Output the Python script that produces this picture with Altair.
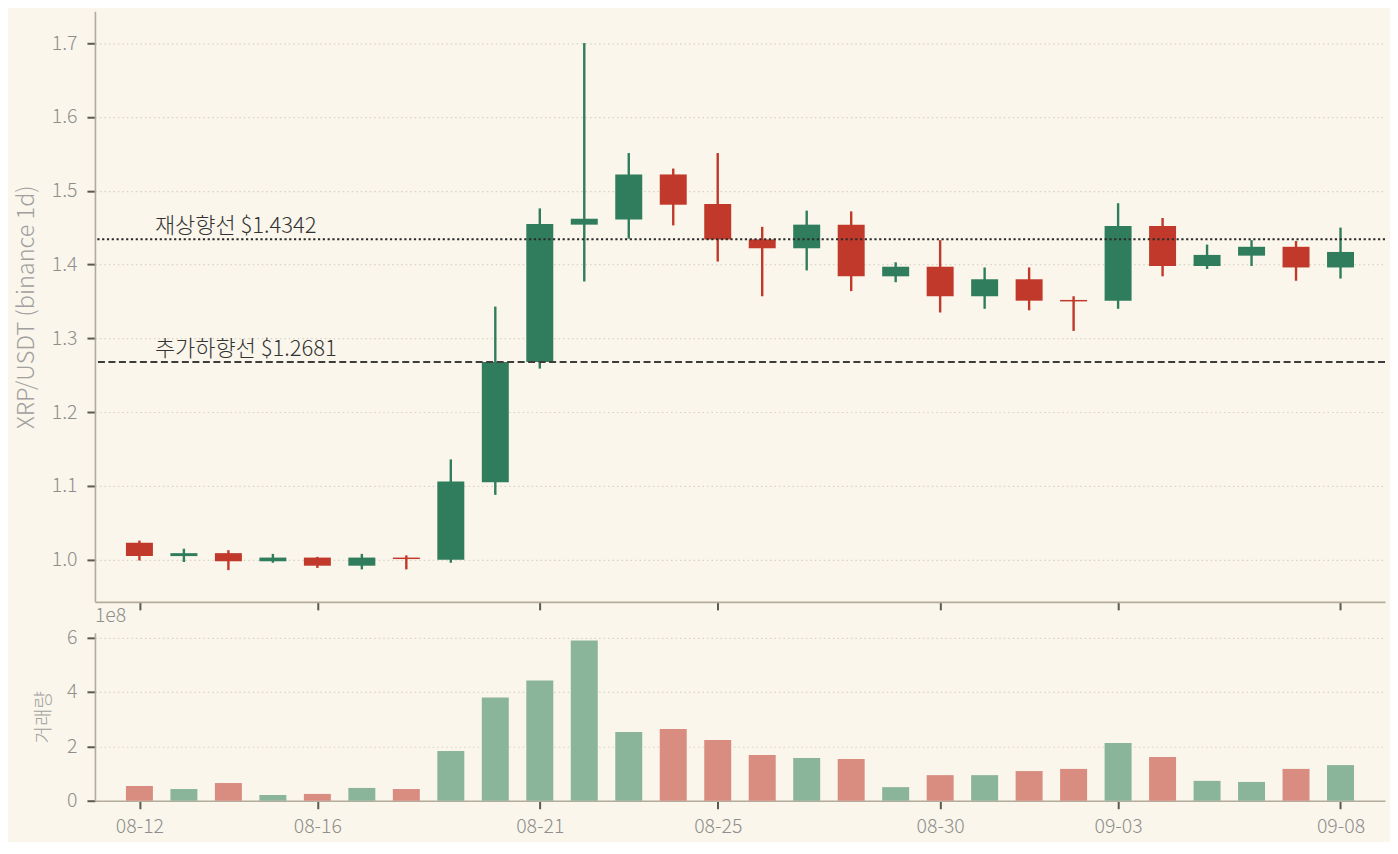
import pandas as pd
import altair as alt

# daily candles, XRP/USDT binance 1d
dates = pd.date_range("2025-08-12", "2025-09-08", freq="D").strftime("%Y-%m-%d").tolist()
opens = [1.023, 1.005, 1.009, 0.998, 1.003, 0.992, 1.003, 1.000, 1.105, 1.268,
         1.454, 1.461, 1.522, 1.482, 1.434, 1.422, 1.454, 1.384, 1.397, 1.357,
         1.380, 1.352, 1.351, 1.452, 1.398, 1.412, 1.424, 1.396]
highs = [1.026, 1.015, 1.013, 1.008, 1.004, 1.008, 1.006, 1.136, 1.343, 1.476,
         1.700, 1.551, 1.530, 1.551, 1.451, 1.473, 1.472, 1.403, 1.433, 1.396,
         1.396, 1.357, 1.483, 1.463, 1.427, 1.433, 1.432, 1.450]
lows = [0.999, 0.997, 0.986, 0.996, 0.989, 0.987, 0.987, 0.996, 1.088, 1.259,
        1.377, 1.435, 1.453, 1.404, 1.357, 1.392, 1.364, 1.376, 1.335, 1.340,
        1.338, 1.310, 1.340, 1.384, 1.394, 1.398, 1.378, 1.381]
closes = [1.005, 1.009, 0.998, 1.003, 0.992, 1.003, 1.001, 1.106, 1.268, 1.455,
          1.462, 1.522, 1.481, 1.434, 1.422, 1.454, 1.384, 1.397, 1.357, 1.380,
          1.351, 1.350, 1.452, 1.398, 1.413, 1.424, 1.396, 1.417]
volumes = [0.54e8, 0.43e8, 0.65e8, 0.21e8, 0.25e8, 0.47e8, 0.43e8, 1.83e8, 3.79e8, 4.42e8,
           5.89e8, 2.53e8, 2.64e8, 2.23e8, 1.68e8, 1.57e8, 1.53e8, 0.50e8, 0.94e8, 0.94e8,
           1.09e8, 1.17e8, 2.12e8, 1.61e8, 0.73e8, 0.69e8, 1.17e8, 1.31e8]

level_names = ["재상향선 $1.4342", "추가하향선 $1.2681"]
level_values = [1.4342, 1.2681]

tick_dates = [(8, 12), (8, 16), (8, 21), (8, 25), (8, 30), (9, 3), (9, 8)]

BG = "#faf6eb"
GREEN = "#2f7d5c"
RED = "#c0392b"
FONT = "Noto Sans CJK KR"

df = pd.DataFrame({"date": dates, "open": opens, "high": highs, "low": lows,
                   "close": closes, "volume": volumes})
df["dir"] = ["up" if c >= o else "down" for o, c in zip(opens, closes)]

lv = pd.DataFrame({"level": level_values, "label": level_names})

xscale = alt.Scale(type="utc", padding=0,
                   domain=[alt.DateTime(year=2025, month=8, date=11, utc=True),
                           alt.DateTime(year=2025, month=9, date=9, utc=True)])
xvals = [alt.DateTime(year=2025, month=m, date=d, utc=True) for m, d in tick_dates]

color_candle = alt.Color("dir:N", scale=alt.Scale(domain=["up", "down"], range=[GREEN, RED]), legend=None)
color_vol = alt.Color("dir:N", scale=alt.Scale(domain=["up", "down"], range=["#8ab59a", "#d98c80"]), legend=None)

# --- price panel
top_x = alt.X("date:T", scale=xscale, title=None,
              axis=alt.Axis(values=xvals, labels=False, grid=False, tickSize=8))
price_y = alt.Scale(domain=[0.943, 1.743], nice=False, zero=False)

base = alt.Chart(df).encode(x=top_x)
wick = base.mark_rule(strokeWidth=2.4).encode(
    y=alt.Y("low:Q", scale=price_y, title="XRP/USDT (binance 1d)",
            axis=alt.Axis(values=[1.0, 1.1, 1.2, 1.3, 1.4, 1.5, 1.6, 1.7], format=".1f",
                          titleFontSize=23.5, titlePadding=13)),
    y2="high:Q", color=color_candle)
body = base.mark_bar(size=27).encode(y="open:Q", y2="close:Q", color=color_candle)

up_line = alt.Chart(lv.iloc[[0]]).mark_rule(color="#2b2b2b", strokeWidth=2.2, strokeDash=[2.2, 2.6]).encode(y="level:Q")
dn_line = alt.Chart(lv.iloc[[1]]).mark_rule(color="#3d3d3d", strokeWidth=2, strokeDash=[7, 3.5]).encode(y="level:Q")
lv_text = alt.Chart(lv).mark_text(align="left", baseline="bottom", dy=-1, fontSize=22,
                                  color="#333333", font=FONT, fontWeight=300).encode(
    x=alt.value(60), y="level:Q", text="label:N")

price = alt.layer(wick, body, up_line, dn_line, lv_text).properties(width=1291, height=591)

# --- volume panel
bot_x = alt.X("date:T", scale=xscale, title=None,
              axis=alt.Axis(values=xvals, format="%m-%d", grid=False, tickSize=8, labelPadding=9))
vol = alt.Chart(df).mark_bar(size=27).encode(
    x=bot_x,
    y=alt.Y("volume:Q", scale=alt.Scale(domain=[0, 6.17e8], nice=False), title="거래량",
            axis=alt.Axis(values=[0, 2e8, 4e8, 6e8], labelExpr="datum.value / 1e8",
                          titleFontSize=19, titlePadding=13)),
    color=color_vol)
offset_txt = alt.Chart(pd.DataFrame({"t": ["1e8"]})).mark_text(
    align="left", baseline="bottom", fontSize=19.5, color="#8e8e8e", font=FONT, fontWeight=300
).encode(x=alt.value(0), y=alt.value(-7), text="t:N")

volume = alt.layer(vol, offset_txt).properties(width=1291, height=168)

chart = alt.vconcat(price, volume, spacing=-5).resolve_scale(color="independent").properties(
    background=BG, padding={"left": 6, "top": 3, "right": 3, "bottom": 5}
).configure_view(stroke=None).configure_axis(
    domainColor="#b3ab9b", domainWidth=1.6, tickColor="#5a5a50", tickWidth=2,
    labelColor="#8e8e8e", labelFont=FONT, labelFontSize=19.5, labelFontWeight=300,
    titleColor="#a0a0a0", titleFont=FONT, titleFontWeight=300, labelPadding=10,
    gridColor="#d9d3c5", gridDash=[1.5, 3], gridWidth=1.2
).configure_axisY(tickSize=8)

chart.save("out.html", embed_options={"renderer": "svg", "actions": False})
